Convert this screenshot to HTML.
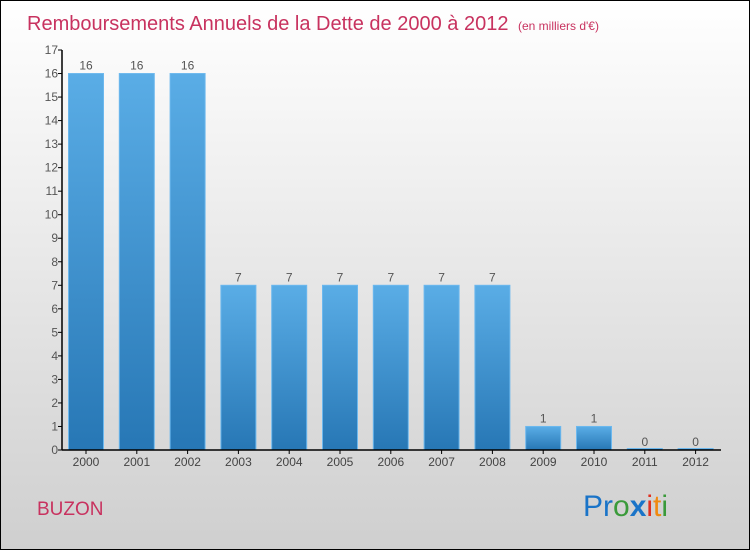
<!DOCTYPE html>
<html><head><meta charset="utf-8"><style>
body{margin:0}
#c{width:748px;height:548px;border:1px solid #000;background:linear-gradient(#ffffff,#cfcfcf);position:relative;overflow:hidden;font-family:"Liberation Sans",sans-serif}
</style></head><body>
<div id="c">
<svg width="748" height="548" id="s">
<defs><linearGradient id="g" x1="0" y1="0" x2="0" y2="1"><stop offset="0" stop-color="#5aade6"/><stop offset="1" stop-color="#2777b5"/></linearGradient></defs>
<text x="26" y="29" font-size="20" fill="#c8325f">Remboursements Annuels de la Dette de 2000 à 2012 <tspan font-size="12" dx="4">(en milliers d'€)</tspan></text>
<text x="36" y="514" font-size="19" fill="#c8325f">BUZON</text>
<g font-size="30" font-family="'Liberation Sans',sans-serif">
<text x="582" y="515"><tspan fill="#1a74c8">Pr</tspan><tspan fill="#3a9a3a">o</tspan><tspan fill="#1a74c8" font-weight="bold">x</tspan><tspan fill="#e03020">i</tspan><tspan fill="#f08a10">t</tspan><tspan fill="#3a9a3a">i</tspan></text>
</g>
<g id="plot"></g>
</svg>
</div>
<script>
const years=["2000","2001","2002","2003","2004","2005","2006","2007","2008","2009","2010","2011","2012"];
const values=[16,16,16,7,7,7,7,7,7,1,1,0,0];
const yTicks=[0,1,2,3,4,5,6,7,8,9,10,11,12,13,14,15,16,17];
const NS="http://www.w3.org/2000/svg";
const p=document.getElementById('plot');
const y0=449,yMax=17,ph=400;
const yS=v=>y0-v*ph/yMax;
const xS=i=>85+i*50.8;
function el(t,a){const e=document.createElementNS(NS,t);for(const k in a)e.setAttribute(k,a[k]);p.appendChild(e);return e;}
values.forEach((v,i)=>{
 const h=Math.max(y0-yS(v),1.5);
 const r=el('rect',{x:xS(i)-17.5,y:y0-h,width:35,height:h,fill:'url(#g)',stroke:'#6cb8ee','stroke-width':1});
 
 
 const t=el('text',{x:xS(i),y:yS(v)-4,'text-anchor':'middle','font-size':12,fill:'#555'});
 t.textContent=v;
 
 
 const xl=el('text',{x:xS(i),y:y0+16,'text-anchor':'middle','font-size':12,fill:'#444'});
 xl.textContent=years[i];
 
 
 el('line',{x1:xS(i),x2:xS(i),y1:y0,y2:y0+4,stroke:'#000'});
});
yTicks.forEach(v=>{
 el('line',{x1:57,x2:61,y1:yS(v),y2:yS(v),stroke:'#000'});
 const t=el('text',{x:57,y:yS(v)+4,'text-anchor':'end','font-size':12,fill:'#555'});
 t.textContent=v;
 
 
});
const ya=el('line',{x1:61,x2:61,y1:yS(17),y2:y0,stroke:'#000','stroke-width':1.5});


const xa=el('line',{x1:61,x2:720,y1:y0,y2:y0,stroke:'#000','stroke-width':1.5});


</script>
</body></html>
